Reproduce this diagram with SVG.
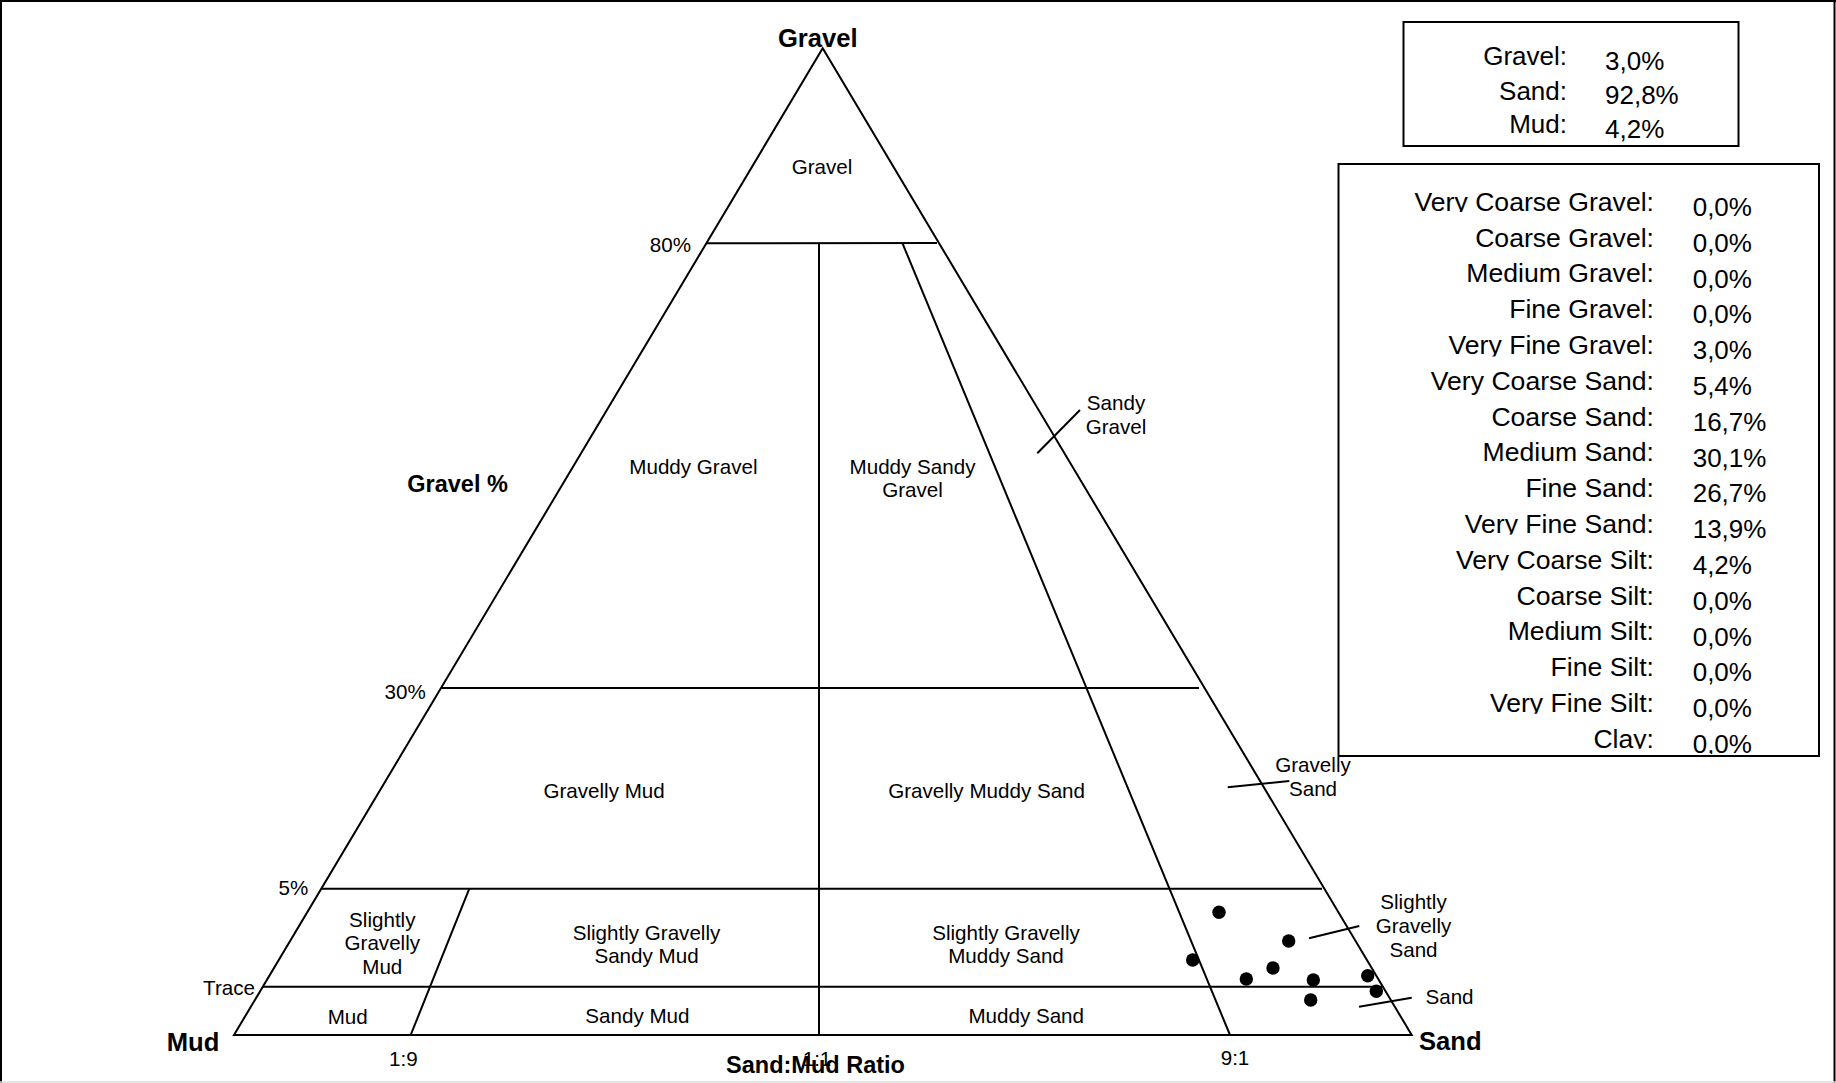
<svg xmlns="http://www.w3.org/2000/svg" width="1836" height="1083" viewBox="0 0 1836 1083">
<style>
.ln{stroke:#000;stroke-width:2;fill:none;stroke-linecap:butt}
.t{font-family:"Liberation Sans",Arial,sans-serif;font-size:20.6px;fill:#000}
.m{text-anchor:middle}
.e{text-anchor:end}
.b{font-weight:bold}
.big{font-size:25.6px}
.mid{font-size:23.5px}
.bx{font-family:"Liberation Sans",Arial,sans-serif;font-size:26px;fill:#000}
.lbl{font-size:26.6px}
.dot{fill:#000}
</style>
<defs>
<clipPath id="c0"><rect x="1338" y="150" width="400" height="62"/></clipPath>
<clipPath id="c4"><rect x="1338" y="320" width="400" height="36.5"/></clipPath>
<clipPath id="c9"><rect x="1338" y="500" width="400" height="34.5"/></clipPath>
<clipPath id="c10"><rect x="1338" y="535" width="400" height="35.2"/></clipPath>
<clipPath id="c14"><rect x="1338" y="680" width="400" height="33.8"/></clipPath>
<clipPath id="c15"><rect x="1338" y="715" width="400" height="33.8"/></clipPath>
<clipPath id="cv15"><rect x="1680" y="715" width="130" height="39"/></clipPath>
</defs>
<rect x="0" y="0" width="1836" height="1083" fill="#fff"/>
<g id="frame">
<line class="ln" x1="0" y1="1" x2="1836" y2="1"/>
<line class="ln" x1="1" y1="0" x2="1" y2="1083"/>
<line class="ln" x1="1834.5" y1="0" x2="1834.5" y2="1083"/>
<line x1="0" y1="1082" x2="1836" y2="1082" stroke="#ddd" stroke-width="1.5"/>
</g>
<g id="triangle">
<polygon class="ln" points="234,1035 822.7,48.3 1411.7,1035"/>
<line class="ln" x1="706.5" y1="243.3" x2="937" y2="243"/>
<line class="ln" x1="441.6" y1="688" x2="1199" y2="688"/>
<line class="ln" x1="321" y1="888.7" x2="1322" y2="888.7"/>
<line class="ln" x1="263" y1="986.7" x2="1382" y2="986.7"/>
<line class="ln" x1="819" y1="243.3" x2="819" y2="1035"/>
<line class="ln" x1="902.5" y1="243.3" x2="1230" y2="1035"/>
<line class="ln" x1="469.3" y1="888.7" x2="410.7" y2="1035"/>
</g>
<g id="connectors">
<line class="ln" x1="1037.3" y1="453.3" x2="1080" y2="410"/>
<line class="ln" x1="1227.7" y1="787.3" x2="1289.3" y2="781"/>
<line class="ln" x1="1309" y1="938.3" x2="1359.3" y2="926"/>
<line class="ln" x1="1359" y1="1006.7" x2="1411.7" y2="997.7"/>
</g>
<g id="axis-labels">
<text id="apex-gravel" class="t b big m" x="817.8" y="46.7">Gravel</text>
<text id="corner-mud" class="t b big m" x="193" y="1050.7">Mud</text>
<text id="corner-sand" class="t b big m" x="1450.3" y="1050">Sand</text>
<text id="axis-gravel" class="t b mid m" x="457.6" y="491.7">Gravel %</text>
<text id="axis-ratio" class="t b mid m" x="815.5" y="1073.3">Sand:Mud Ratio</text>
<text class="t e" x="691" y="252">80%</text>
<text class="t e" x="425.7" y="699.3">30%</text>
<text class="t e" x="308.3" y="895">5%</text>
<text class="t e" x="255" y="995">Trace</text>
<text class="t m" x="403.3" y="1066">1:9</text>
<text class="t m" x="817" y="1065.5">1:1</text>
<text class="t m" x="1235" y="1065">9:1</text>
</g>
<g id="region-gravel"><text class="t m" x="822" y="174">Gravel</text></g>
<g id="region-muddy-gravel"><text class="t m" x="693.4" y="474">Muddy Gravel</text></g>
<g id="region-muddy-sandy-gravel"><text class="t m" x="912.5" y="474">Muddy Sandy</text><text class="t m" x="912.5" y="497">Gravel</text></g>
<g id="region-sandy-gravel"><text class="t m" x="1116" y="410">Sandy</text><text class="t m" x="1116" y="433.5">Gravel</text></g>
<g id="region-gravelly-mud"><text class="t m" x="604.1" y="798.3">Gravelly Mud</text></g>
<g id="region-gravelly-muddy-sand"><text class="t m" x="986.6" y="798.3">Gravelly Muddy Sand</text></g>
<g id="region-gravelly-sand"><text class="t m" x="1313" y="771.7">Gravelly</text><text class="t m" x="1313" y="796">Sand</text></g>
<g id="region-slightly-gravelly-mud"><text class="t m" x="382.3" y="926.7">Slightly</text><text class="t m" x="382.3" y="950">Gravelly</text><text class="t m" x="382.3" y="974.3">Mud</text></g>
<g id="region-slightly-gravelly-sandy-mud"><text class="t m" x="646.5" y="940">Slightly Gravelly</text><text class="t m" x="646.5" y="963.3">Sandy Mud</text></g>
<g id="region-slightly-gravelly-muddy-sand"><text class="t m" x="1006" y="940">Slightly Gravelly</text><text class="t m" x="1006" y="963.3">Muddy Sand</text></g>
<g id="region-slightly-gravelly-sand"><text class="t m" x="1413.5" y="909.3">Slightly</text><text class="t m" x="1413.5" y="933.3">Gravelly</text><text class="t m" x="1413.5" y="956.7">Sand</text></g>
<g id="region-mud"><text class="t m" x="347.7" y="1024">Mud</text></g>
<g id="region-sandy-mud"><text class="t m" x="637.4" y="1023.3">Sandy Mud</text></g>
<g id="region-muddy-sand"><text class="t m" x="1026.2" y="1023.3">Muddy Sand</text></g>
<g id="region-sand"><text class="t m" x="1449.5" y="1004">Sand</text></g>
<g id="samples">
<circle class="dot" cx="1219" cy="912.3" r="6.7"/>
<circle class="dot" cx="1288.7" cy="941" r="6.7"/>
<circle class="dot" cx="1192.7" cy="960" r="6.7"/>
<circle class="dot" cx="1273" cy="968" r="6.7"/>
<circle class="dot" cx="1246.3" cy="979" r="6.7"/>
<circle class="dot" cx="1313.3" cy="980" r="6.7"/>
<circle class="dot" cx="1367.7" cy="975.7" r="6.7"/>
<circle class="dot" cx="1376.3" cy="991.3" r="6.7"/>
<circle class="dot" cx="1310.7" cy="1000" r="6.7"/>
</g>
<g id="summary-box">
<rect class="ln" x="1403.5" y="22" width="335" height="124"/>
<text class="bx e" x="1567" y="64.7">Gravel:</text>
<text class="bx e" x="1567" y="99.5">Sand:</text>
<text class="bx e" x="1567" y="132.7">Mud:</text>
<text class="bx" x="1605" y="70">3,0%</text>
<text class="bx" x="1605" y="104">92,8%</text>
<text class="bx" x="1605" y="138.3">4,2%</text>
</g>
<g id="fractions-box">
<rect class="ln" x="1338.5" y="164" width="480.5" height="592"/>
<g class="bx lbl e">
<text x="1654" y="210.7" clip-path="url(#c0)">Very Coarse Gravel:</text>
<text x="1654" y="246.5">Coarse Gravel:</text>
<text x="1654" y="282.3">Medium Gravel:</text>
<text x="1654" y="318.1">Fine Gravel:</text>
<text x="1654" y="353.9" clip-path="url(#c4)">Very Fine Gravel:</text>
<text x="1654" y="389.7">Very Coarse Sand:</text>
<text x="1654" y="425.5">Coarse Sand:</text>
<text x="1654" y="461.3">Medium Sand:</text>
<text x="1654" y="497.1">Fine Sand:</text>
<text x="1654" y="532.9" clip-path="url(#c9)">Very Fine Sand:</text>
<text x="1654" y="568.7" clip-path="url(#c10)">Very Coarse Silt:</text>
<text x="1654" y="604.5">Coarse Silt:</text>
<text x="1654" y="640.3">Medium Silt:</text>
<text x="1654" y="676.1">Fine Silt:</text>
<text x="1654" y="711.9" clip-path="url(#c14)">Very Fine Silt:</text>
<text x="1654" y="747.7" clip-path="url(#c15)">Clay:</text>
</g>
<g class="bx">
<text x="1692.7" y="216">0,0%</text>
<text x="1692.7" y="251.8">0,0%</text>
<text x="1692.7" y="287.6">0,0%</text>
<text x="1692.7" y="323.4">0,0%</text>
<text x="1692.7" y="359.2">3,0%</text>
<text x="1692.7" y="395">5,4%</text>
<text x="1692.7" y="430.8">16,7%</text>
<text x="1692.7" y="466.6">30,1%</text>
<text x="1692.7" y="502.4">26,7%</text>
<text x="1692.7" y="538.2">13,9%</text>
<text x="1692.7" y="574">4,2%</text>
<text x="1692.7" y="609.8">0,0%</text>
<text x="1692.7" y="645.6">0,0%</text>
<text x="1692.7" y="681.4">0,0%</text>
<text x="1692.7" y="717.2">0,0%</text>
<text x="1692.7" y="753" clip-path="url(#cv15)">0,0%</text>
</g>
</g>
</svg>
